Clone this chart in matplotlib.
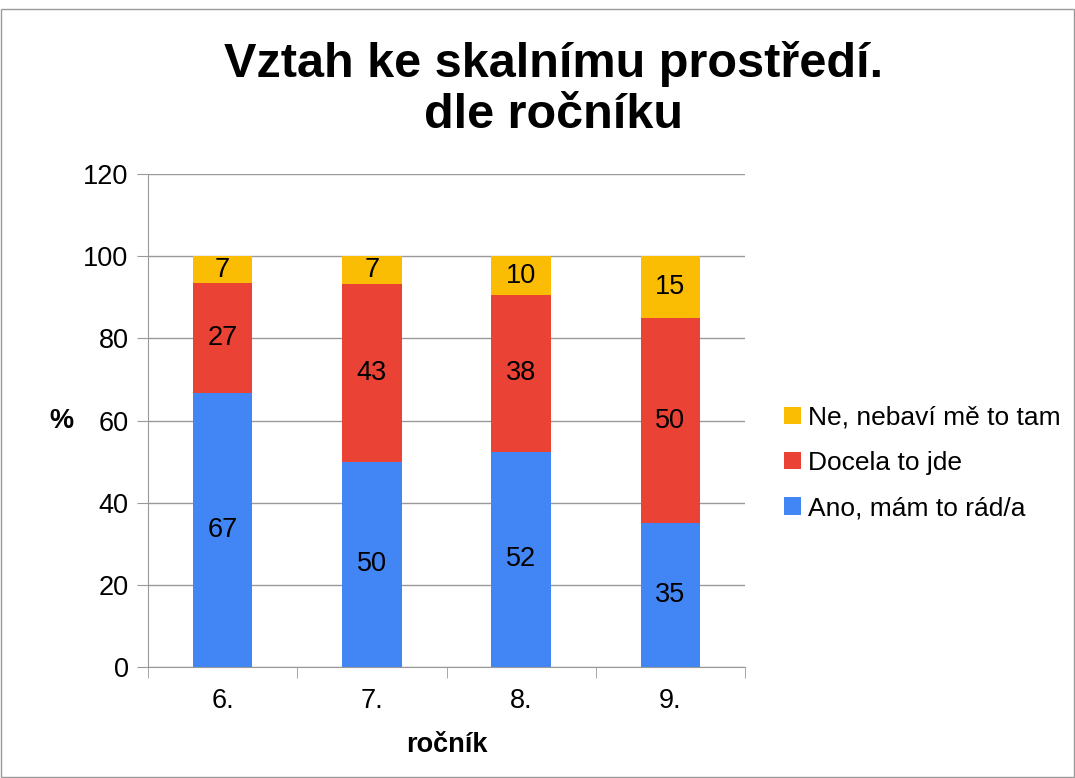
import matplotlib.pyplot as plt
import numpy as np
from matplotlib.patches import Patch, Rectangle

plt.rcParams['font.family'] = ['Liberation Sans', 'DejaVu Sans']

# Data
Grades = ['6.', '7.', '8.', '9.']
Ano = [66.7, 50.0, 52.4, 35.0]
Docela = [26.7, 43.3, 38.1, 50.0]
Ne = [6.7, 6.7, 9.5, 15.0]
SeriesLabels = ['Ano, mám to rád/a', 'Docela to jde', 'Ne, nebaví mě to tam']
Colors = ['#4285F4', '#EA4335', '#FBBC04']

fig = plt.figure(figsize=(10.75, 7.78), dpi=100)
ax = fig.add_axes([0.1377, 0.1427, 0.5553, 0.6336])

x = np.arange(len(Grades))
bottom = np.zeros(len(Grades))
handles = []
for vals, col, lab in zip([Ano, Docela, Ne], Colors, SeriesLabels):
    bars = ax.bar(x, vals, 0.4, bottom=bottom, color=col, zorder=3)
    ax.bar_label(bars, labels=['%.0f' % v for v in vals], label_type='center',
                 fontsize=19.5, color='black')
    bottom += np.array(vals)
    handles.append(Patch(facecolor=col, label=lab))

ax.set_ylim(0, 120)
ax.set_yticks(np.arange(0, 121, 20))
ax.set_xlim(-0.5, 3.5)
ax.set_xticks(x)
ax.set_xticklabels(Grades)
ax.set_xticks(np.arange(-0.5, 3.6, 1), minor=True)
ax.tick_params(axis='x', which='major', length=0, labelsize=19.5, pad=15)
ax.tick_params(axis='x', which='minor', length=8, color='#999999', direction='out')
ax.tick_params(axis='y', length=8, color='#999999', labelsize=19.5, pad=6)
ax.grid(axis='y', color='#999999', linewidth=1, zorder=0)
for s in ['top', 'right']:
    ax.spines[s].set_visible(False)
for s in ['left', 'bottom']:
    ax.spines[s].set_color('#999999')
    ax.spines[s].set_zorder(4)

ax.set_xlabel('ročník', fontsize=19.5, fontweight='bold', labelpad=13)
ax.set_ylabel('%', fontsize=19.5, fontweight='bold', rotation=0, labelpad=16, va='center')

fig.text(0.515, 0.885, 'Vztah ke skalnímu prostředí.\ndle ročníku', ha='center', va='center',
         fontsize=35, fontweight='bold', linespacing=1.15)

fig.legend(handles=handles[::-1], loc='center left', bbox_to_anchor=(0.707, 0.405),
           frameon=False, fontsize=19, handlelength=0.65, handleheight=0.65,
           handletextpad=0.25, labelspacing=0.8)

fig.patches.append(Rectangle((0.001, 0.001), 0.998, 0.987, transform=fig.transFigure,
                             fill=False, edgecolor='#999999', linewidth=1))

plt.savefig('out.png', dpi=100)
